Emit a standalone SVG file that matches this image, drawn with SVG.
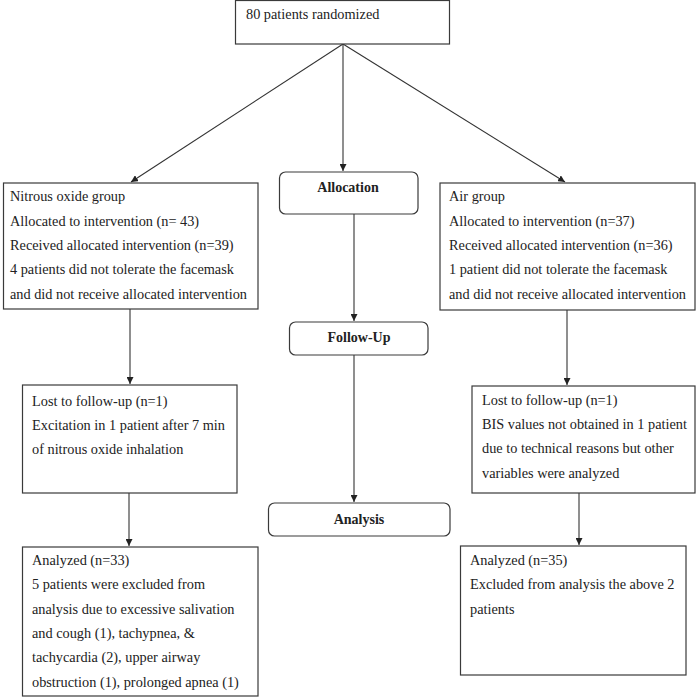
<svg xmlns="http://www.w3.org/2000/svg" width="697" height="697" viewBox="0 0 697 697">
<style>
.box{fill:#fff;stroke:#3a3a3a;stroke-width:1.2}
.t{font-family:"Liberation Serif","Times New Roman",serif;font-size:14.3px;fill:#222}
.b{font-family:"Liberation Serif","Times New Roman",serif;font-size:14px;font-weight:bold;fill:#222;text-anchor:middle}
.c{stroke:#333;stroke-width:1.1;fill:none;marker-end:url(#ah)}
</style>
<defs>
<marker id="ah" viewBox="0 0 10 10" refX="10" refY="5" markerWidth="7" markerHeight="7" markerUnits="userSpaceOnUse" orient="auto">
<path d="M0,0 L10,5 L0,10 z" fill="#222"/>
</marker>
</defs>
<rect width="697" height="697" fill="#fff"/>
<g id="connectors">
<line class="c" x1="343" y1="44" x2="343" y2="171"/>
<line class="c" x1="343" y1="44" x2="131" y2="182"/>
<line class="c" x1="343" y1="44" x2="565" y2="182"/>
<line class="c" x1="130" y1="309" x2="130" y2="384"/>
<line class="c" x1="354" y1="214" x2="354" y2="321"/>
<line class="c" x1="354" y1="355" x2="354" y2="502"/>
<line class="c" x1="567" y1="310" x2="567" y2="385"/>
<line class="c" x1="129" y1="493" x2="129" y2="546"/>
<line class="c" x1="579" y1="493" x2="579" y2="545"/>
</g>
<g id="randomized">
<rect class="box" x="235.5" y="0.5" width="214" height="43.5"/>
<text class="t" x="246" y="19">80 patients randomized</text>
</g>
<g id="nitrous">
<rect class="box" x="3.5" y="183" width="254.5" height="126"/>
<text class="t" x="10" y="201">Nitrous oxide group</text>
<text class="t" x="10" y="226">Allocated to intervention (n= 43)</text>
<text class="t" x="10" y="250">Received allocated intervention (n=39)</text>
<text class="t" x="10" y="274">4 patients did not tolerate the facemask</text>
<text class="t" x="10" y="299">and did not receive allocated intervention</text>
</g>
<g id="allocation">
<rect class="box" x="279.5" y="172" width="138.5" height="42" rx="6"/>
<text class="b" x="348" y="192">Allocation</text>
</g>
<g id="air">
<rect class="box" x="440" y="183" width="255" height="127"/>
<text class="t" x="449" y="201">Air group</text>
<text class="t" x="449" y="226">Allocated to intervention (n=37)</text>
<text class="t" x="449" y="250">Received allocated intervention (n=36)</text>
<text class="t" x="449" y="274">1 patient did not tolerate the facemask</text>
<text class="t" x="449" y="299">and did not receive allocated intervention</text>
</g>
<g id="followup">
<rect class="box" x="289.5" y="322" width="138.5" height="33" rx="6"/>
<text class="b" x="359" y="342">Follow-Up</text>
</g>
<g id="lost-left">
<rect class="box" x="22.5" y="385" width="214.5" height="108"/>
<text class="t" x="32" y="406">Lost to follow-up (n=1)</text>
<text class="t" x="32" y="430">Excitation in 1 patient after 7 min</text>
<text class="t" x="32" y="454">of nitrous oxide inhalation</text>
</g>
<g id="lost-right">
<rect class="box" x="472" y="386" width="223" height="107"/>
<text class="t" x="482" y="405">Lost to follow-up (n=1)</text>
<text class="t" x="482" y="429">BIS values not obtained in 1 patient</text>
<text class="t" x="482" y="453">due to technical reasons but other</text>
<text class="t" x="482" y="478">variables were analyzed</text>
</g>
<g id="analysis">
<rect class="box" x="268.5" y="503" width="181.5" height="33" rx="6"/>
<text class="b" x="359" y="524">Analysis</text>
</g>
<g id="analyzed-left">
<rect class="box" x="22.5" y="547" width="235.5" height="149"/>
<text class="t" x="32" y="565">Analyzed (n=33)</text>
<text class="t" x="32" y="589">5 patients were excluded from</text>
<text class="t" x="32" y="614">analysis due to excessive salivation</text>
<text class="t" x="32" y="638">and cough (1), tachypnea, &amp;</text>
<text class="t" x="32" y="662">tachycardia (2), upper airway</text>
<text class="t" x="32" y="687">obstruction (1), prolonged apnea (1)</text>
</g>
<g id="analyzed-right">
<rect class="box" x="460.5" y="546" width="225.5" height="129"/>
<text class="t" x="470" y="565">Analyzed (n=35)</text>
<text class="t" x="470" y="589">Excluded from analysis the above 2</text>
<text class="t" x="470" y="614">patients</text>
</g>
</svg>
